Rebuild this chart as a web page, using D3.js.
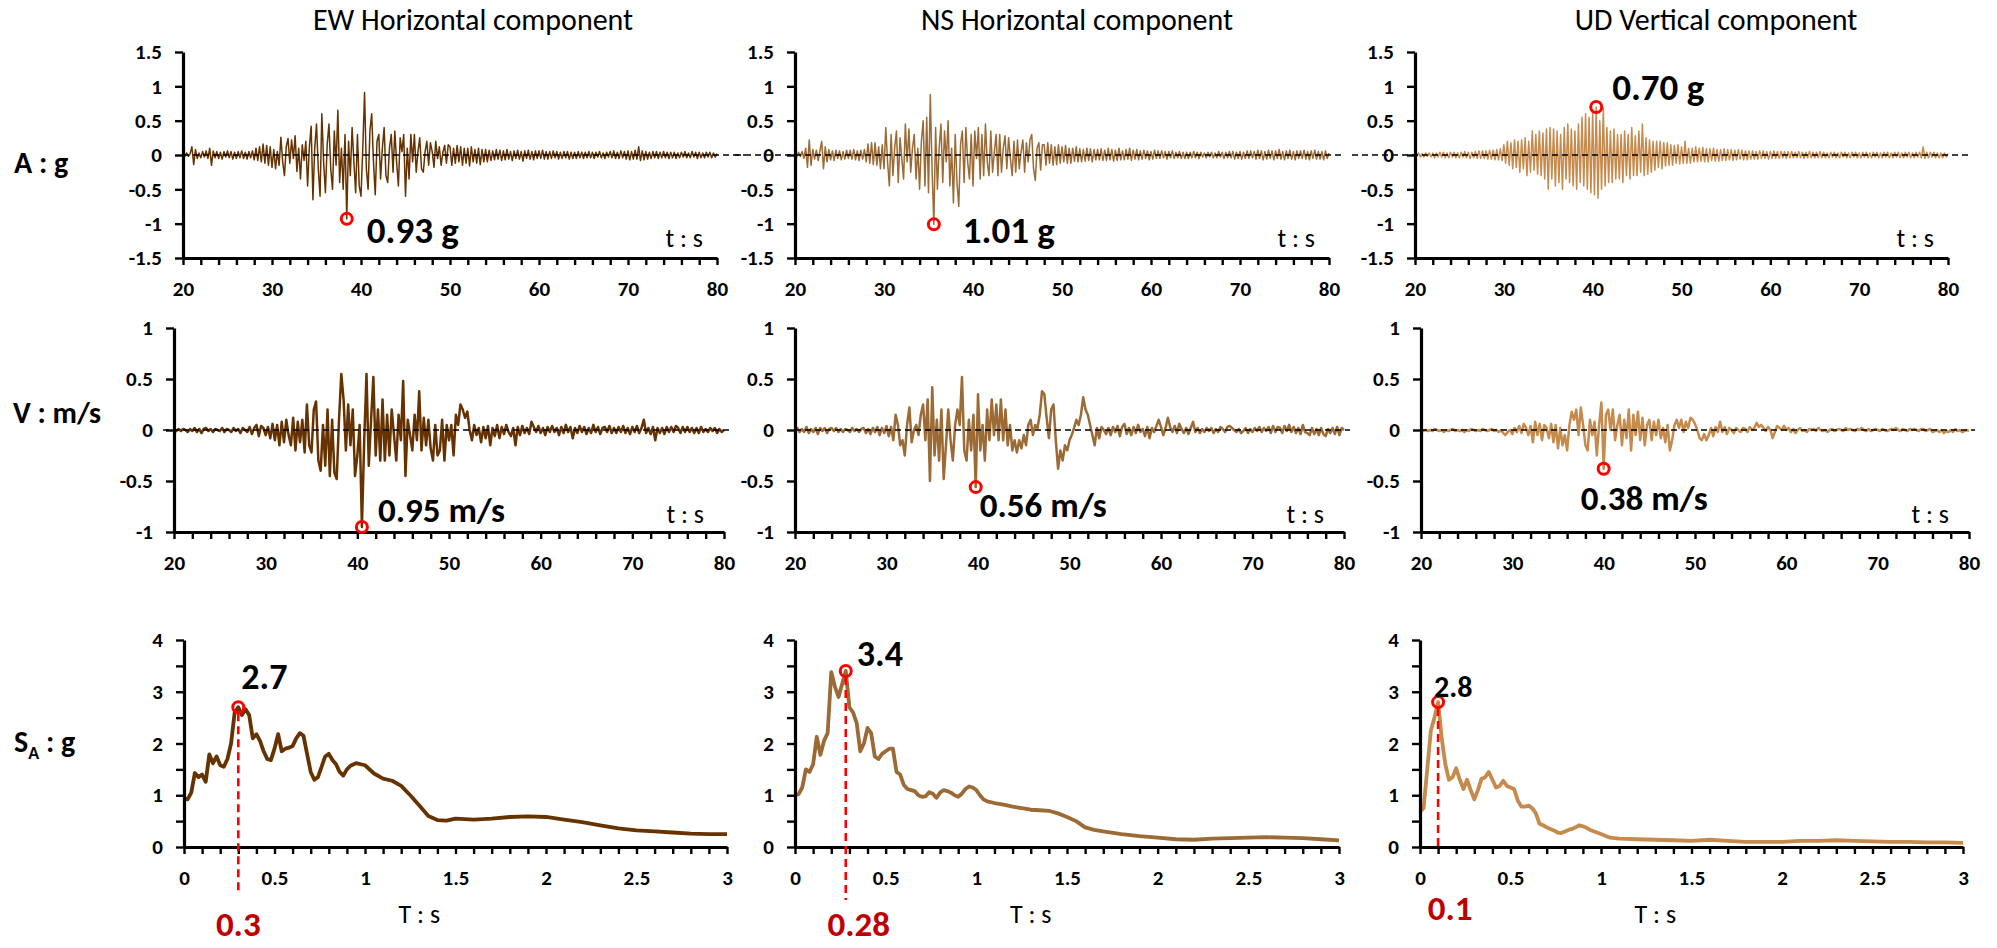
<!DOCTYPE html>
<html>
<head>
<meta charset="utf-8">
<script src="https://cdn.jsdelivr.net/npm/d3@7"></script>
<style>
  body { margin: 0; background: #fff; }
  svg { display: block; }
  text { font-family: Carlito, Lato, "Open Sans", sans-serif; fill: #000; }
</style>
</head>
<body>
<svg id="chart" width="1997" height="948"></svg>
<script>
// ---- Ground acceleration (g), sampled every 0.2 s from 20 s to 80 s ----
const accStart = 20, accStep = 0.2;
const accEW = [
  0.01,-0.02,0.03,-0.02,0.02, 0.12,-0.14,0.08,-0.05,0.03, -0.04,0.05,-0.03,0.06,-0.05, 0.1,-0.15,0.06,-0.04,0.05,
  -0.05,0.04,-0.06,0.05,-0.03, 0.06,-0.04,0.05,-0.06,0.04, -0.05,0.05,-0.04,0.06,-0.05, 0.04,-0.06,0.05,-0.04,0.06,
  -0.07,0.1,-0.08,0.12,-0.1, 0.16,-0.12,0.14,-0.15,0.12, -0.18,0.08,-0.2,0.05,-0.15, 0.26,-0.1,-0.3,0.12,0.24,
  -0.12,0.22,-0.05,0.28,-0.24, 0.1,-0.35,0.15,-0.08,0.2, -0.45,0.12,0.42,-0.65,0.1, 0.45,-0.2,-0.6,0.6,-0.1,
  -0.55,0.15,0.45,-0.2,-0.5, 0.35,-0.15,0.65,-0.4,0.1, -0.5,0.3,-0.93,0.2,-0.3, 0.4,-0.1,-0.55,0.3,-0.45,
  -0.6,0.1,0.91,-0.2,-0.5, 0.35,0.6,-0.1,-0.58,0.2, 0.3,-0.35,0.1,0.4,-0.3, -0.4,0.1,0.3,-0.25,0.35,
  -0.1,-0.45,0.25,0.05,0.3, -0.6,0.1,-0.35,0.3,-0.1, 0.3,-0.25,0.05,0.25,-0.2, -0.25,0.05,0.2,-0.15,0.18,
  0.05,-0.18,0.2,-0.05,0.12, -0.15,0.04,0.14,-0.12,0.15, 0.12,-0.15,0.1,-0.12,0.14, -0.1,0.12,-0.15,0.1,-0.12,
  0.1,-0.16,0.12,-0.1,0.08, -0.12,0.1,-0.14,0.08,-0.1, 0.08,-0.1,0.07,-0.08,0.06, -0.07,0.08,-0.06,0.07,-0.08,
  0.06,-0.07,0.08,-0.06,0.05, -0.08,0.06,-0.05,0.07,-0.06, 0.05,-0.09,0.06,-0.05,0.07, -0.06,0.05,-0.07,0.06,-0.05,
  0.06,-0.05,0.07,-0.06,0.05, -0.06,0.05,-0.05,0.06,-0.04, 0.05,-0.06,0.04,-0.05,0.05, -0.04,0.05,-0.06,0.04,-0.05,
  0.04,-0.05,0.05,-0.04,0.04, -0.05,0.04,-0.04,0.05,-0.04, 0.04,-0.05,0.04,-0.03,0.05, -0.04,0.03,-0.05,0.04,-0.03,
  0.05,-0.04,0.06,-0.05,0.04, -0.05,0.06,-0.04,0.05,-0.06, 0.06,-0.07,0.05,-0.06,0.07, -0.06,0.12,-0.08,0.06,-0.07,
  0.05,-0.06,0.04,-0.05,0.05, -0.04,0.05,-0.05,0.04,-0.04, 0.05,-0.04,0.04,-0.05,0.04, -0.04,0.04,-0.05,0.03,-0.04,
  0.04,-0.03,0.05,-0.04,0.03, -0.04,0.05,-0.03,0.04,-0.05, 0.04,-0.04,0.03,-0.04,0.04, -0.03,0.04,-0.04,0.03,-0.03,
  0.02
];
const accNS = [
  0.02,-0.03,0.04,-0.02,0.05, -0.05,0.1,-0.18,0.22,-0.15, 0.08,-0.06,0.07,-0.08,0.06, 0.2,-0.2,0.12,-0.1,0.08,
  -0.07,0.06,-0.08,0.07,-0.05, 0.06,-0.07,0.05,-0.06,0.07, -0.05,0.07,-0.06,0.08,-0.07, 0.06,-0.08,0.07,-0.06,0.08,
  -0.1,0.16,-0.12,0.18,-0.14, 0.18,-0.15,0.12,-0.2,0.15, -0.2,0.4,-0.1,-0.45,0.3, -0.3,0.1,0.35,-0.4,0.25,
  -0.05,-0.35,0.45,-0.1,0.38, -0.25,0.1,0.3,-0.35,0.1, -0.5,0.2,0.5,-0.45,0.55, -0.55,0.88,-0.2,-1.01,0.4,
  -0.5,0.1,0.45,-0.4,0.35, -0.1,0.5,-0.45,0.1,-0.7, 0.3,-0.4,-0.75,0.15,0.35, -0.4,0.4,-0.1,-0.35,0.3,
  -0.45,0.35,-0.05,0.4,-0.35, 0.3,-0.3,0.45,-0.1,-0.3, 0.35,-0.25,0.05,0.3,-0.3, 0.3,-0.25,0.1,0.28,-0.2,
  0.25,-0.05,-0.3,0.2,-0.25, 0.22,-0.2,0.05,0.22,-0.25, 0.18,-0.1,0.22,0.3,-0.2, -0.37,0.1,0.18,-0.22,0.15,
  0.15,-0.15,0.18,-0.12,0.15, -0.15,0.12,-0.14,0.15,-0.12, 0.12,-0.1,0.14,-0.12,0.1, -0.12,0.1,-0.09,0.12,-0.1,
  0.09,-0.1,0.08,-0.09,0.1, -0.08,0.09,-0.1,0.08,-0.07, 0.08,-0.07,0.09,-0.08,0.07, -0.08,0.1,-0.07,0.08,-0.09,
  0.07,-0.08,0.1,-0.07,0.06, -0.07,0.08,-0.06,0.1,-0.08, 0.07,-0.06,0.08,-0.07,0.06, -0.06,0.07,-0.05,0.06,-0.07,
  0.05,-0.06,0.07,-0.05,0.06, -0.05,0.06,-0.04,0.05,-0.06, 0.05,-0.04,0.06,-0.05,0.04, -0.04,0.05,-0.05,0.04,-0.05,
  0.04,-0.05,0.04,-0.04,0.05, -0.04,0.04,-0.05,0.04,-0.03, 0.03,-0.04,0.04,-0.03,0.04, -0.04,0.03,-0.04,0.05,-0.03,
  0.04,-0.05,0.04,-0.04,0.05, -0.04,0.05,-0.06,0.04,-0.05, 0.05,-0.06,0.04,-0.05,0.06, -0.05,0.06,-0.04,0.05,-0.06,
  0.07,-0.05,0.06,-0.07,0.05, -0.06,0.07,-0.05,0.06,-0.07, 0.06,-0.05,0.08,-0.06,0.05, -0.07,0.06,-0.05,0.07,-0.06,
  0.05,-0.07,0.06,-0.05,0.06, -0.05,0.07,-0.06,0.05,-0.07, 0.06,-0.05,0.07,-0.06,0.05, -0.06,0.05,-0.07,0.06,-0.05,
  0.03
];
const accUD = [
  0.02,-0.02,0.03,-0.03,0.02, -0.03,0.03,-0.02,0.03,-0.03, 0.03,-0.04,0.03,-0.03,0.04, -0.03,0.04,-0.04,0.03,-0.04,
  0.04,-0.03,0.04,-0.04,0.03, -0.04,0.04,-0.03,0.05,-0.04, 0.04,-0.05,0.04,-0.04,0.05, -0.05,0.06,-0.05,0.06,-0.05,
  0.06,-0.06,0.07,-0.06,0.07, -0.07,0.08,-0.07,0.09,-0.08, 0.15,-0.12,0.2,-0.15,0.18, -0.2,0.22,-0.18,0.2,-0.25,
  0.22,-0.2,0.25,-0.3,0.2, -0.25,0.35,-0.22,0.3,-0.28, 0.35,-0.3,0.32,-0.35,0.38, -0.5,0.4,-0.35,0.38,-0.45,
  0.35,-0.4,0.3,-0.5,0.4, -0.35,0.45,-0.4,0.38,-0.45, 0.35,-0.5,0.45,-0.4,0.55, -0.45,0.6,-0.5,0.55,-0.55,
  0.62,-0.58,0.7,-0.63,0.5, -0.5,0.68,-0.45,0.4,-0.4, 0.35,-0.4,0.38,-0.35,0.3, -0.35,0.3,-0.4,0.35,-0.3,
  0.3,-0.35,0.4,-0.3,0.28, -0.3,0.35,-0.25,0.45,-0.3, 0.25,-0.28,0.22,-0.25,0.2, -0.22,0.2,-0.18,0.2,-0.2,
  0.18,-0.16,0.18,-0.15,0.15, -0.15,0.14,-0.12,0.15,-0.13, 0.12,-0.12,0.2,-0.12,0.1, -0.12,0.1,-0.1,0.12,-0.1,
  0.1,-0.09,0.11,-0.1,0.09, -0.1,0.09,-0.08,0.1,-0.09, 0.08,-0.09,0.08,-0.08,0.09, -0.08,0.08,-0.07,0.08,-0.08,
  0.07,-0.07,0.08,-0.06,0.07, -0.07,0.06,-0.07,0.06,-0.06, 0.06,-0.06,0.05,-0.06,0.06, -0.05,0.06,-0.05,0.05,-0.06,
  0.05,-0.05,0.06,-0.05,0.05, -0.05,0.05,-0.04,0.05,-0.05, 0.05,-0.04,0.05,-0.04,0.04, -0.04,0.05,-0.04,0.04,-0.05,
  0.04,-0.04,0.05,-0.04,0.04, -0.04,0.04,-0.04,0.05,-0.04, 0.04,-0.04,0.03,-0.04,0.04, -0.03,0.04,-0.04,0.03,-0.04,
  0.04,-0.03,0.04,-0.04,0.03, -0.04,0.04,-0.03,0.04,-0.04, 0.03,-0.04,0.04,-0.03,0.04, -0.04,0.03,-0.04,0.04,-0.03,
  0.04,-0.04,0.03,-0.04,0.04, -0.03,0.04,-0.04,0.03,-0.04, 0.04,-0.03,0.04,-0.04,0.03, -0.04,0.04,-0.03,0.04,-0.04,
  0.03,-0.04,0.04,-0.03,0.04, -0.04,0.12,-0.05,0.04,-0.04, 0.04,-0.03,0.04,-0.04,0.03, -0.04,0.03,-0.04,0.03,-0.03,
  0.02
];

// ---- Ground velocity (m/s), sampled every 0.25 s from 20 s to 80 s ----
const velStart = 20, velStep = 0.25;
const velEW = [
  0.0,-0.01,0.01,-0.01, 0.01,0.0,-0.02,0.01, -0.01,0.02,-0.02,0.01, -0.03,0.01,0.02,-0.01, 0.01,-0.02,0.01,0.0,
  -0.01,0.02,-0.02,0.01, 0.0,-0.02,0.02,-0.01, 0.01,-0.03,0.02,0.0, -0.02,0.03,-0.04,0.02, 0.05,-0.06,0.04,0.02,
  -0.05,0.03,-0.08,0.06, -0.1,0.05,-0.15,0.08, -0.12,0.1,-0.05,-0.15, 0.12,-0.2,0.08,-0.12, 0.1,-0.22,0.25,-0.15,
  -0.22,0.2,0.28,-0.3, -0.4,0.05,-0.35,0.2, -0.45,0.1,-0.42,-0.48, 0.1,0.55,0.3,-0.2, 0.25,-0.15,0.2,-0.45,
  -0.25,0.05,-0.95,-0.1, 0.55,-0.35,0.1,0.52, -0.25,0.2,-0.3,0.3, -0.3,0.15,-0.25,0.2, -0.05,-0.3,0.15,-0.1,
  0.48,-0.45,0.1,-0.05, -0.2,0.15,-0.1,0.38, -0.2,0.12,-0.15,0.1, -0.18,-0.3,0.05,-0.25, -0.2,0.1,-0.3,0.05,
  -0.1,0.05,-0.25,0.15, 0.05,0.25,0.2,0.12, 0.18,0.0,-0.1,0.05, -0.05,0.02,-0.12,0.03, -0.08,0.04,-0.15,0.02,
  -0.06,0.05,-0.08,0.03, -0.04,0.05,-0.02,-0.06, 0.02,-0.15,0.03,-0.05, 0.04,-0.03,0.02,-0.04, 0.08,0.03,-0.02,0.04,
  -0.03,0.02,-0.05,0.03, -0.02,0.04,-0.02,0.02, -0.05,0.03,-0.03,0.05, -0.02,0.03,-0.08,0.02, -0.03,0.04,-0.02,0.03,
  -0.04,0.02,-0.03,0.05, -0.02,0.03,-0.04,0.02, 0.03,-0.02,0.04,-0.03, 0.02,-0.03,0.03,-0.02, 0.04,-0.03,0.02,-0.04,
  0.03,-0.02,0.04,-0.03, 0.02,0.1,-0.03,0.02, -0.04,0.03,-0.1,0.02, -0.03,0.02,-0.04,0.03, -0.02,0.03,-0.02,0.04,
  0.02,-0.03,0.03,-0.02, 0.03,-0.02,0.02,-0.03, 0.02,-0.03,0.03,-0.02, 0.01,-0.02,0.02,-0.01, 0.02,-0.03,0.01,-0.02,
  0.0
];
const velNS = [
  0.0,0.02,-0.02,0.01, -0.02,0.03,-0.03,0.01, -0.02,0.02,-0.04,0.02, -0.01,0.02,-0.03,0.01, 0.02,-0.01,0.02,-0.02,
  0.01,-0.02,0.01,0.0, -0.02,0.02,-0.01,0.01, -0.02,0.01,0.02,-0.03, 0.01,-0.04,0.02,-0.02, 0.03,-0.05,0.02,-0.03,
  0.04,-0.06,0.03,-0.1, 0.15,0.05,-0.15,-0.1, -0.25,0.05,0.22,-0.12, 0.0,0.05,-0.05,0.15, 0.25,-0.1,0.3,-0.5,
  0.42,-0.25,0.1,-0.3, 0.2,-0.48,-0.15,0.2, -0.1,-0.3,0.05,0.2, 0.05,0.52,-0.2,-0.3, 0.1,-0.2,0.15,-0.56,
  0.35,-0.2,0.05,-0.3, 0.2,-0.1,0.3,-0.05, 0.25,-0.1,0.3,-0.1, 0.2,-0.15,0.05,-0.2, -0.1,-0.22,-0.1,-0.18,
  -0.05,-0.15,0.05,0.1, -0.05,0.05,0.02,0.15, 0.38,0.35,0.12,-0.08, 0.2,0.25,-0.1,-0.38, -0.2,-0.3,-0.15,-0.2,
  -0.1,-0.05,0.02,0.1, 0.05,0.15,0.32,0.2, 0.15,0.05,-0.05,-0.15, 0.02,-0.08,0.03,0.0, -0.04,0.02,-0.05,0.03,
  -0.02,0.04,-0.06,0.03, 0.06,-0.04,0.02,-0.05, 0.03,-0.03,0.05,-0.02, 0.01,-0.06,0.03,-0.08, 0.02,-0.02,0.04,0.1,
  0.03,-0.05,0.02,0.12, 0.03,-0.02,0.04,-0.03, 0.06,0.01,-0.03,0.02, -0.04,0.02,0.08,-0.02, 0.02,-0.03,0.01,-0.02,
  0.02,-0.01,0.02,-0.03, 0.01,-0.02,0.03,0.01, -0.02,0.03,0.04,0.02, 0.0,-0.02,0.01,-0.03, -0.01,0.02,-0.03,0.01,
  -0.02,0.02,-0.01,0.03, -0.02,0.02,-0.01,0.03, -0.03,0.04,-0.02,0.03, 0.02,-0.03,0.04,-0.01, 0.05,-0.02,0.03,-0.03,
  0.02,-0.04,0.05,-0.02, -0.03,-0.05,0.02,-0.04, 0.01,-0.05,0.02,-0.04, -0.06,0.01,-0.03,0.02, -0.04,0.03,-0.05,0.02,
  0.0
];
const velUD = [
  0.0,-0.01,0.0,-0.01, 0.0,-0.01,0.01,0.0, -0.01,0.0,-0.02,0.0, -0.01,0.0,0.01,-0.01, 0.0,-0.01,0.0,-0.02,
  0.0,-0.01,0.01,0.0, -0.01,0.0,-0.01,0.01, 0.0,-0.01,0.0,0.01, -0.01,0.0,-0.02,0.0, -0.03,-0.05,-0.02,0.0,
  -0.04,0.02,-0.02,0.04, -0.03,0.06,0.02,-0.05, 0.04,-0.12,0.08,-0.05, 0.06,-0.1,0.05,0.02, -0.08,0.06,-0.12,0.05,
  -0.18,0.02,-0.15,-0.05, -0.2,0.05,0.18,0.1, 0.2,-0.05,0.22,0.05, -0.15,-0.2,0.1,-0.05, 0.08,-0.25,0.05,0.27,
  -0.38,0.15,0.2,0.0, 0.2,-0.1,0.05,0.15, -0.15,0.1,-0.08,0.2, -0.2,0.15,-0.05,0.18, -0.1,0.12,-0.15,0.05,
  0.1,-0.1,0.08,-0.05, 0.1,-0.08,0.02,-0.12, 0.05,-0.2,-0.1,0.05, 0.1,0.02,0.1,-0.02, 0.08,0.02,0.12,0.1,
  0.06,0.0,-0.08,-0.1, -0.04,-0.1,-0.05,0.02, -0.06,0.03,-0.02,0.08, -0.02,0.03,-0.04,0.02, 0.0,-0.03,0.02,0.0,
  -0.02,0.02,0.01,-0.02, 0.03,0.0,0.02,0.07, 0.03,0.05,0.02,-0.01, 0.03,0.0,-0.08,-0.02, 0.04,0.02,0.0,0.04,
  0.0,0.02,-0.02,0.01, -0.03,0.0,0.02,-0.01, 0.0,-0.02,0.01,0.0, 0.01,-0.01,0.02,0.0, -0.01,0.0,-0.02,0.0,
  0.01,-0.01,0.0,0.01, 0.0,-0.01,0.02,0.0, 0.01,0.0,-0.01,0.01, 0.0,0.02,0.0,-0.01, 0.01,-0.01,0.0,0.01,
  0.0,-0.01,0.01,0.0, -0.01,0.0,0.01,0.0, 0.02,0.0,-0.01,0.01, 0.0,-0.01,0.01,0.0, 0.01,0.0,-0.01,0.01,
  0.01,-0.01,0.0,0.01, -0.02,-0.01,0.0,-0.02, 0.0,-0.03,-0.01,-0.02, 0.0,-0.02,0.01,-0.01, 0.0,-0.02,-0.01,0.0,
  -0.01
];

// ---- Acceleration response spectra (g) against period T (s) ----
const periodsEW = [0,0.02,0.04,0.06,0.08,0.1,0.12,0.14,0.16,0.18,0.2,0.22,0.24,0.26,0.28,0.3,0.32,0.34,0.36,0.38,
  0.4,0.42,0.44,0.46,0.48,0.5,0.52,0.54,0.56,0.58,0.6,0.62,0.64,0.66,0.68,0.7,0.72,0.74,0.76,0.78,
  0.8,0.82,0.84,0.86,0.88,0.9,0.92,0.95,1.0,1.05,1.1,1.15,1.2,1.25,1.3,1.35,1.4,1.45,1.5,
  1.6,1.7,1.8,1.9,2.0,2.1,2.2,2.3,2.4,2.5,2.6,2.7,2.8,2.9,3.0];
const spectrumEW = [0.94,0.92,1.05,1.43,1.35,1.4,1.26,1.79,1.62,1.75,1.58,1.55,1.7,2.0,2.6,2.7,2.55,2.66,2.55,2.1,
  2.18,2.05,1.85,1.7,1.68,1.9,2.18,1.85,1.9,1.92,1.95,2.1,2.2,2.15,1.8,1.45,1.3,1.35,1.55,1.75,
  1.8,1.68,1.6,1.45,1.38,1.5,1.57,1.62,1.58,1.42,1.32,1.28,1.18,1.0,0.8,0.6,0.52,0.51,0.55,
  0.53,0.55,0.58,0.59,0.58,0.53,0.48,0.42,0.36,0.32,0.3,0.28,0.26,0.25,0.25];
const periodsNS = [0,0.02,0.04,0.06,0.08,0.1,0.12,0.14,0.16,0.18,0.2,0.22,0.24,0.26,0.28,0.3,0.32,0.34,0.36,0.38,
  0.4,0.42,0.44,0.46,0.48,0.5,0.52,0.54,0.56,0.58,0.6,0.62,0.64,0.66,0.68,0.7,0.72,0.74,0.76,0.78,
  0.8,0.82,0.84,0.86,0.88,0.9,0.92,0.94,0.96,0.98,1.0,1.02,1.04,1.06,
  1.1,1.15,1.2,1.25,1.3,1.35,1.4,1.45,1.5,1.55,1.6,1.65,1.7,
  1.8,1.9,2.0,2.1,2.2,2.3,2.4,2.5,2.6,2.7,2.8,2.9,3.0];
const spectrumNS = [1.0,1.02,1.15,1.5,1.45,1.6,2.13,1.78,2.05,2.2,3.38,3.1,2.9,3.15,3.4,2.7,2.6,2.4,1.85,2.0,
  2.3,2.2,1.75,1.7,1.8,1.85,1.9,1.9,1.45,1.4,1.2,1.12,1.1,1.08,1.0,0.97,0.98,1.06,1.03,0.95,
  1.05,1.1,1.08,1.05,1.0,0.97,1.03,1.12,1.17,1.15,1.1,1.0,0.92,0.88,
  0.85,0.82,0.78,0.75,0.72,0.71,0.7,0.65,0.58,0.5,0.38,0.33,0.3,
  0.25,0.21,0.18,0.15,0.14,0.16,0.17,0.18,0.19,0.18,0.17,0.15,0.13];
const periodsUD = [0,0.02,0.04,0.06,0.08,0.1,0.12,0.14,0.16,0.18,0.2,0.22,0.24,0.26,0.28,0.3,0.32,0.34,0.36,0.38,
  0.4,0.42,0.44,0.46,0.48,0.5,0.52,0.54,0.56,0.58,0.6,0.62,0.64,0.66,0.68,0.7,0.72,0.74,0.76,0.78,
  0.8,0.82,0.84,0.86,0.88,0.9,0.92,0.94,1.0,1.05,1.1,
  1.2,1.3,1.4,1.5,1.6,1.7,1.8,1.9,2.0,2.1,2.2,2.3,2.4,2.5,2.6,2.7,2.8,2.9,3.0];
const spectrumUD = [0.68,0.75,1.5,2.25,2.5,2.8,2.1,1.6,1.3,1.35,1.52,1.3,1.12,1.3,1.1,0.92,1.1,1.32,1.35,1.45,
  1.3,1.15,1.18,1.28,1.18,1.15,1.12,0.9,0.78,0.78,0.8,0.75,0.65,0.45,0.42,0.38,0.35,0.32,0.28,0.27,
  0.3,0.33,0.35,0.38,0.42,0.4,0.37,0.33,0.25,0.18,0.16,
  0.15,0.14,0.13,0.12,0.14,0.12,0.1,0.1,0.1,0.12,0.12,0.13,0.12,0.11,0.1,0.1,0.09,0.09,0.08];

// ---- Axis ticks and labels ----
const componentTitles = ["EW Horizontal component", "NS Horizontal component", "UD Vertical component"];
const timeTicks = d3.range(20, 80.001, 2);
const accTicks = [-1.5, -1, -0.5, 0, 0.5, 1, 1.5];
const velTicks = [-1, -0.5, 0, 0.5, 1];
const saTicks = d3.range(0, 4.001, 0.5);
const periodTicks = d3.range(0, 30.5, 1).map(d => d / 10);

// ---- Layout ----
const seriesColors = ["#663300", "#9B6A35", "#C68A4C"];
const colAcc = [[183, 717], [795, 1329], [1415, 1948]];
const colVel = [[174, 724], [795, 1344], [1421, 1969]];
const colSA  = [[184, 727], [795, 1339], [1420, 1963]];
const rowAcc = [258, 52], rowVel = [532, 328], rowSA = [847, 640];
const titleCenters = [473, 1077, 1716];
const accZeroSpan = [[183, 745], [735, 1345], [1352, 1968]];

const svg = d3.select("#chart");

function isMultiple(v, step) { return Math.abs(v / step - Math.round(v / step)) < 1e-6; }

function panel(xDomain, xRange, yDomain, yRange, xTicks, xLabel, yTicks, yLabel) {
  const x = d3.scaleLinear().domain(xDomain).range(xRange);
  const y = d3.scaleLinear().domain(yDomain).range(yRange);
  const g = svg.append("g");
  const content = g.append("g");
  const ax = d3.axisBottom(x).tickValues(xTicks).tickFormat(xLabel)
    .tickSize(7).tickSizeOuter(0).tickPadding(16);
  const ay = d3.axisLeft(y).tickValues(yTicks).tickFormat(yLabel)
    .tickSize(8).tickSizeOuter(0).tickPadding(13);
  const gx = g.append("g").attr("transform", `translate(0,${y(yDomain[0])})`).call(ax);
  const gy = g.append("g").attr("transform", `translate(${x(xDomain[0])},0)`).call(ay);
  [gx, gy].forEach(a => {
    a.select(".domain").attr("stroke", "#000").attr("stroke-width", 3.2);
    a.selectAll(".tick line").attr("stroke", "#000").attr("stroke-width", 2.4);
    a.selectAll(".tick text").attr("font-size", 21).attr("font-weight", 700).attr("fill", "#000");
  });
  return { x, y, g, content };
}

function zeroLine(p, x1, x2) {
  p.g.append("line")
    .attr("x1", x1).attr("x2", x2)
    .attr("y1", p.y(0)).attr("y2", p.y(0))
    .attr("stroke", "#000").attr("stroke-width", 1.6).attr("stroke-dasharray", "6,4");
}

function ring(p, cx, cy) {
  p.g.append("circle").attr("cx", cx).attr("cy", cy).attr("r", 5.5)
    .attr("fill", "none").attr("stroke", "#FF0000").attr("stroke-width", 3);
}

function label(x, y, text, size, weight, anchor, color) {
  return svg.append("text").attr("x", x).attr("y", y).text(text)
    .attr("font-size", size).attr("font-weight", weight)
    .attr("text-anchor", anchor || "start").style("fill", color || "#000");
}

const timeLabel = d => isMultiple(d, 10) ? String(d) : "";
const plain = d => String(d);

// ---- Row 1: accelerograms ----
const accSeries = [accEW, accNS, accUD];
const accPeakText = [{ dx: 20, y: 243 }, { dx: 29, y: 243 }, { dx: 16, y: 100 }];
accSeries.forEach((vals, i) => {
  const p = panel([20, 80], colAcc[i], [-1.5, 1.5], rowAcc, timeTicks, timeLabel, accTicks, plain);
  const pts = vals.map((v, k) => [accStart + k * accStep, v]);
  p.content.append("path").datum(pts)
    .attr("d", d3.line().x(d => p.x(d[0])).y(d => p.y(d[1])))
    .attr("fill", "none").attr("stroke", seriesColors[i]).attr("stroke-width", 1.5)
    .attr("stroke-linejoin", "round");
  zeroLine(p, accZeroSpan[i][0], accZeroSpan[i][1]);
  const k = d3.maxIndex(vals, Math.abs);
  const cx = p.x(pts[k][0]), cy = p.y(pts[k][1]);
  ring(p, cx, cy);
  label(cx + accPeakText[i].dx, accPeakText[i].y, d3.format(".2f")(Math.abs(vals[k])) + " g", 37, 700);
  label(colAcc[i][1] - 14, 247, "t : s", 26, 400, "end");
  label(titleCenters[i], 30, componentTitles[i], 30, 400, "middle");
});

// ---- Row 2: velocity time histories ----
const velSeries = [velEW, velNS, velUD];
const velPeakText = [{ dx: 16, y: 522 }, { dx: 4, y: 517 }, { dx: -23, y: 510 }];
velSeries.forEach((vals, i) => {
  const p = panel([20, 80], colVel[i], [-1, 1], rowVel, timeTicks, timeLabel, velTicks, plain);
  const pts = vals.map((v, k) => [velStart + k * velStep, v]);
  p.content.append("path").datum(pts)
    .attr("d", d3.line().x(d => p.x(d[0])).y(d => p.y(d[1])))
    .attr("fill", "none").attr("stroke", seriesColors[i]).attr("stroke-width", 2.5)
    .attr("stroke-linejoin", "round");
  zeroLine(p, colVel[i][0] - (i === 0 ? 11 : 0), colVel[i][1] + 6);
  const k = d3.maxIndex(vals, Math.abs);
  const cx = p.x(pts[k][0]), cy = p.y(pts[k][1]);
  ring(p, cx, cy);
  label(cx + velPeakText[i].dx, velPeakText[i].y, d3.format(".2f")(Math.abs(vals[k])) + " m/s", 35, 700);
  label(colVel[i][1] - 20, 523, "t : s", 26, 400, "end");
});

// ---- Row 3: response spectra ----
const saSeries = [[periodsEW, spectrumEW], [periodsNS, spectrumNS], [periodsUD, spectrumUD]];
const saPeakText = [
  { dx: 3, dy: -18, size: 36 }, { dx: 11, dy: -5, size: 36 }, { dx: -4, dy: -5, size: 30 }
];
const periodText = [
  { dx: 0, y: 936, dropTo: 895 }, { dx: 13, y: 936, dropTo: 900 }, { dx: 12, y: 920, dropTo: null }
];
const periodLabel = d => isMultiple(d, 0.5) ? String(Math.round(d * 2) / 2) : "";
const saLabel = d => isMultiple(d, 1) ? String(Math.round(d)) : "";
saSeries.forEach(([per, sa], i) => {
  const p = panel([0, 3], colSA[i], [0, 4], rowSA, periodTicks, periodLabel, saTicks, saLabel);
  const pts = per.map((t, k) => [t, sa[k]]);
  p.content.append("path").datum(pts)
    .attr("d", d3.line().x(d => p.x(d[0])).y(d => p.y(d[1])))
    .attr("fill", "none").attr("stroke", seriesColors[i]).attr("stroke-width", 3.8)
    .attr("stroke-linejoin", "round");
  const k = d3.maxIndex(sa);
  const cx = p.x(per[k]), cy = p.y(sa[k]);
  const bottom = periodText[i].dropTo === null ? p.y(0) : periodText[i].dropTo;
  p.g.append("line").attr("x1", cx).attr("x2", cx).attr("y1", cy + 6).attr("y2", bottom)
    .attr("stroke", "#FF0000").attr("stroke-width", 2.6).attr("stroke-dasharray", "8,5");
  ring(p, cx, cy);
  label(cx + saPeakText[i].dx, cy + saPeakText[i].dy, d3.format(".1f")(sa[k]), saPeakText[i].size, 700);
  label(cx + periodText[i].dx, periodText[i].y, String(per[k]), 35, 700, "middle", "#C00000");
  label(p.x(1.3), 923, "T : s", 26, 400, "middle");
});

// ---- Row titles ----
label(14, 173, "A : g", 30, 700);
label(13, 423, "V : m/s", 30, 700);
const saTitle = label(14, 752, "S", 30, 700);
saTitle.append("tspan").attr("font-size", 18).attr("dy", 7).text("A");
saTitle.append("tspan").attr("dy", -7).text(" : g");
</script>
</body>
</html>
